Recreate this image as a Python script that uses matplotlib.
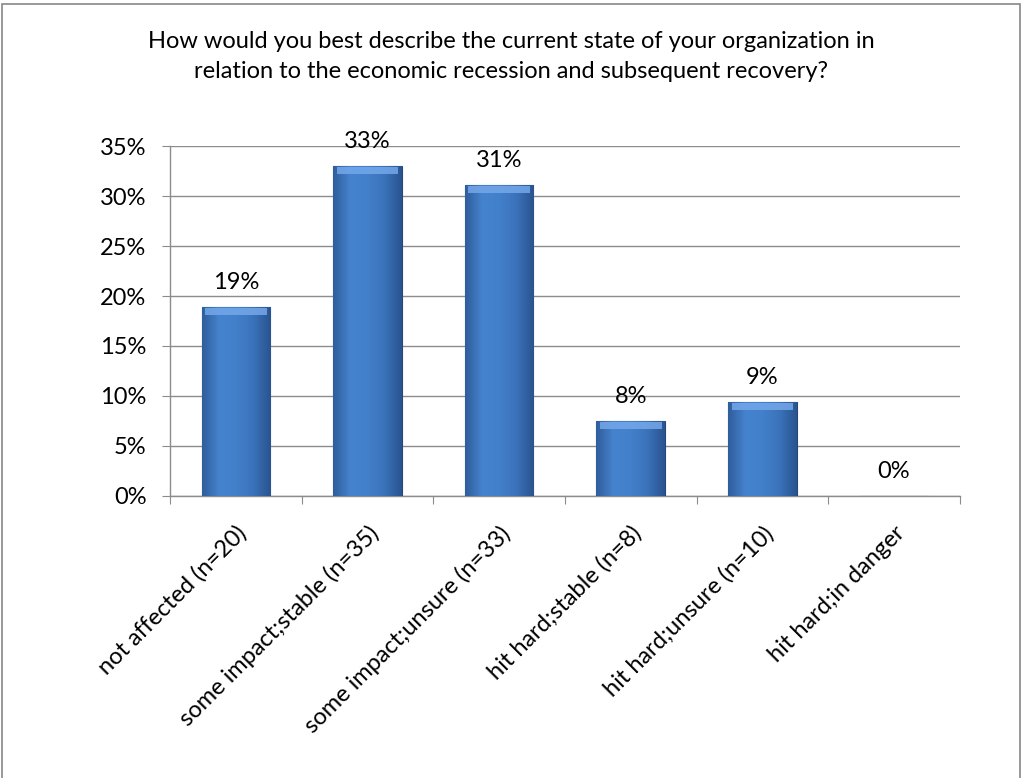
import numpy as np
import matplotlib.pyplot as plt
from matplotlib.patches import Rectangle
from matplotlib.colors import LinearSegmentedColormap

categories = [
    "not affected (n=20)",
    "some impact;stable (n=35)",
    "some impact;unsure (n=33)",
    "hit hard;stable (n=8)",
    "hit hard;unsure (n=10)",
    "hit hard;in danger",
]
counts = [20, 35, 33, 8, 10, 0]
shares = [c / sum(counts) for c in counts]
yticks = [0, 0.05, 0.10, 0.15, 0.20, 0.25, 0.30, 0.35]

title = ("How would you best describe the current state of your organization in\n"
         "relation to the economic recession and subsequent recovery?")

plt.rcParams["font.family"] = ["Lato", "DejaVu Sans"]

fig = plt.figure(figsize=(10.23, 7.78), dpi=100)
ax = fig.add_axes([0.1662, 0.3625, 0.772, 0.4498])

x = np.arange(len(categories))
bars = ax.bar(x, shares, width=0.52, color="#3d74bd", edgecolor="#24487a",
              linewidth=0.8, zorder=3)

# horizontal shading inside each bar to mimic the bevelled look
shade = LinearSegmentedColormap.from_list(
    "shade", ["#2f5e9c", "#4683cf", "#4280cb", "#3b73ba", "#2a5490"])
grad = np.linspace(0, 1, 64).reshape(1, -1)
for b in bars:
    if b.get_height() <= 0:
        continue
    x0, w, h = b.get_x(), b.get_width(), b.get_height()
    im = ax.imshow(grad, cmap=shade, aspect="auto", extent=(x0, x0 + w, 0, h),
                   zorder=3.5, interpolation="bicubic")
    im.set_clip_path(b)
    ax.add_patch(Rectangle((x0 + w * 0.05, h - 0.008), w * 0.9, 0.007,
                           facecolor="#74a8ea", edgecolor="none", alpha=0.85,
                           zorder=4, clip_path=b))

for xi, v in zip(x, shares):
    ax.annotate(f"{v:.0%}", (xi, v), xytext=(0, 10), textcoords="offset points",
                ha="center", va="bottom", fontsize=17)

ax.set_xlim(-0.5, len(categories) - 0.5)
ax.set_ylim(0, 0.35)
ax.set_yticks(yticks)
ax.set_yticklabels([f"{t:.0%}" for t in yticks], fontsize=17)
ax.yaxis.grid(True, color="#8c8c8c", linewidth=1.0, zorder=0)
ax.set_axisbelow(True)

ax.set_xticks(np.arange(len(categories) + 1) - 0.5)
ax.set_xticklabels([])
ax.set_xticks(x, minor=True)
ax.set_xticklabels(categories, minor=True, rotation=45, ha="right",
                   rotation_mode="anchor", fontsize=17)
ax.tick_params(axis="x", which="minor", length=0, pad=19)
ax.tick_params(axis="x", which="major", length=6, color="#8c8c8c", direction="out")
ax.tick_params(axis="y", length=6, color="#8c8c8c", direction="out", pad=11)

for side in ["top", "right"]:
    ax.spines[side].set_visible(False)
for side in ["left", "bottom"]:
    ax.spines[side].set_color("#8c8c8c")
    ax.spines[side].set_linewidth(1.0)

fig.text(0.5, 0.96, title, ha="center", va="top", fontsize=17, linespacing=1.5)

fig.patches.append(Rectangle((0.002, -0.01), 0.995, 1.005, transform=fig.transFigure,
                             fill=False, edgecolor="#888888", linewidth=1.2))

fig.savefig("out.png", dpi=100)
